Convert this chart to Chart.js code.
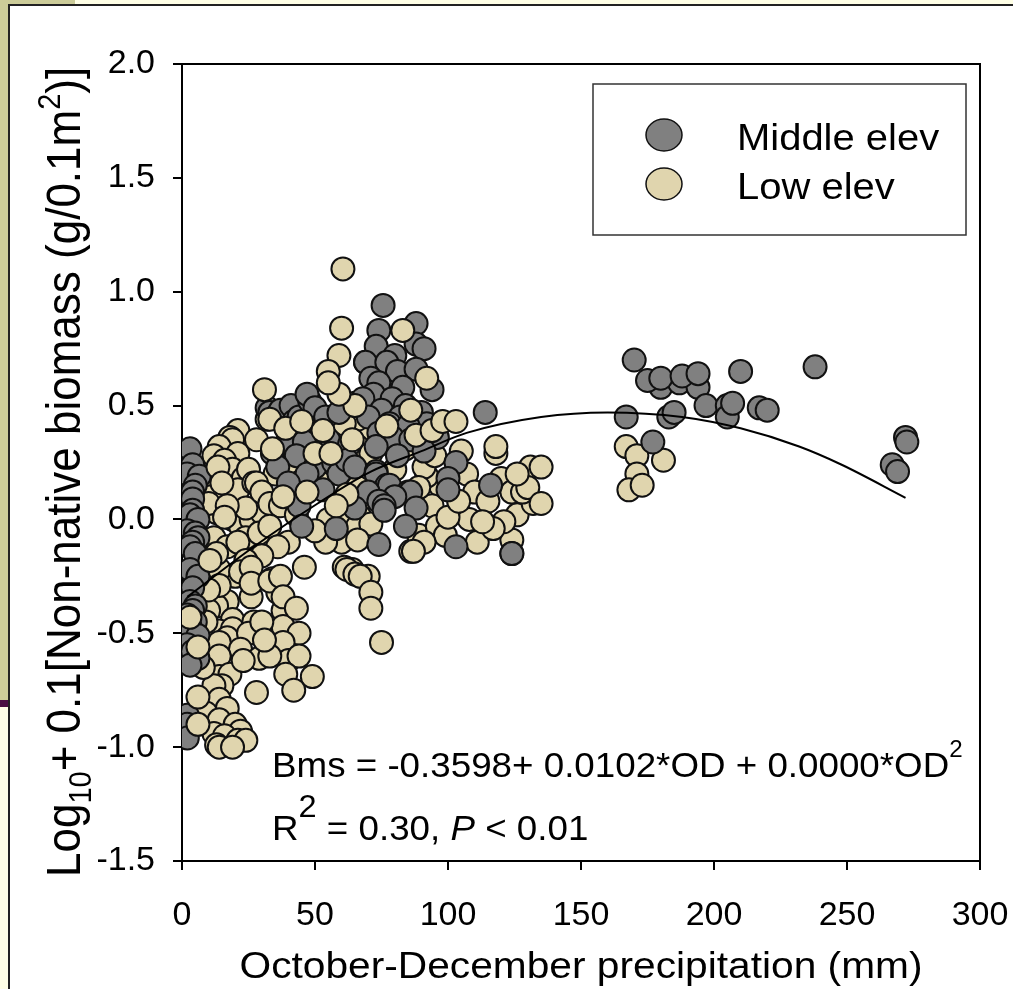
<!DOCTYPE html>
<html>
<head>
<meta charset="utf-8">
<script src="https://cdn.jsdelivr.net/npm/chart.js@4.4.1/dist/chart.umd.min.js"></script>
<style>
  body { margin: 0; background: #fff; }
  #wrap { position: absolute; left: 0; top: 0; width: 1013px; height: 989px; overflow: hidden; }
  .deco { position: absolute; }
  canvas { position: absolute; left: 0; top: 0; }
</style>
</head>
<body>
<div id="wrap">
  <div class="deco" style="left:0;top:0;width:1013px;height:5px;background:#ffffe6"></div>
  <div class="deco" style="left:0;top:0;width:75px;height:5px;background:#cccc99"></div>
  <div class="deco" style="left:0;top:0;width:8px;height:700px;background:#cccc99"></div>
  <div class="deco" style="left:0;top:700px;width:8px;height:7px;background:#4a0f42"></div>
  <div class="deco" style="left:0;top:707px;width:8px;height:282px;background:#ffffe6"></div>
  <div class="deco" style="left:8px;top:4px;width:2px;height:985px;background:#222"></div>
  <div class="deco" style="left:8px;top:4px;width:1005px;height:2px;background:#222"></div>
  <canvas id="myChart" width="1013" height="989"></canvas>
</div>
<script>
// Middle elevation sites [precip mm, log biomass]
const middleElev = [
  [3,0.31],[4,0.24],[2,0.20],[6.5,0.19],[5,0.15],[4,0.12],[4,0.09],[4,0.04],[3,0.02],[6,0.0],[2,-0.05],
  [5,-0.06],[6,-0.08],[4,-0.10],[3,-0.12],[5,-0.15],[3,-0.22],[6,-0.25],[4,-0.30],[3,-0.36],[5,-0.38],
  [4,-0.40],[2,-0.42],[5,-0.45],[3,-0.47],[3,-0.50],[6,-0.51],[2,-0.55],[4,-0.58],[6,-0.61],[3,-0.64],
  [2,-0.86],[2,-0.90],[2,-0.96],
  [32,0.49],[33,0.47],[36,0.46],[37,0.48],[41,0.50],[42,0.43],[44,0.45],[48,0.52],[47,0.55],[50,0.49],
  [52,0.41],[54,0.45],[59,0.47],[41,0.39],[39,0.33],[46,0.34],[43,0.28],[55,0.35],[63,0.33],[34,0.29],
  [36,0.23],[50,0.23],[57,0.25],[47,0.20],[59,0.20],[62,0.26],[65,0.23],[40,0.16],[53,0.13],[68,0.50],
  [69,0.69],[44,0.06],[45,-0.03],[58,-0.04],
  [75.6,0.94],[88,0.86],[74,0.83],[73,0.76],[88,0.77],[91,0.75],[80,0.72],[69,0.69],[77,0.69],[81,0.65],
  [88,0.66],[71,0.62],[74,0.60],[83,0.58],[72,0.55],[94,0.57],[79,0.53],[68,0.53],[84,0.50],[75,0.48],
  [90,0.47],[70,0.45],[82,0.45],[78,0.42],[92,0.42],[114,0.47],[85,0.41],[74,0.38],[79,0.36],[86,0.35],
  [96,0.36],[73,0.32],[91,0.30],[81,0.28],[73,0.21],[73,0.20],[77,0.15],[78,0.15],[70,0.12],[85,0.12],
  [86,0.12],[80,0.10],[88,0.05],[65,0.05],[103,0.25],[100,0.18],[100,0.13],[74,0.08],[76,0.06],
  [76,0.04],[84,-0.03],[74,-0.11],[103,-0.12],[116,0.15],[124,-0.15],
  [167,0.45],[183,0.45],[185,0.47],[177,0.34],[180,0.58],[187,0.60],[194,0.58],[197,0.50],[205,0.50],
  [205,0.45],[207,0.51],[217,0.49],[220,0.48],[175,0.61],[170,0.70],[180,0.62],[188,0.63],[194,0.64],
  [210,0.65],[238,0.67],
  [272,0.36],[272.5,0.34],[267,0.24],[269,0.21]
];

// Low elevation sites that sit under the middle elevation circles
const lowElev = [
  [60.5,1.10],[59,0.72],[55,0.65],[65,0.51],
  [21,0.39],[18,0.36],[19,0.35],[14,0.32],[21,0.29],[12,0.28],[16,0.26],[19,0.22],[23,0.18],
  [32,0.44],[49,0.46],[57,0.45],[62,0.48],[70,0.38],
  [74,0.44],[82,0.36],[35,0.20],[42,0.22],[46,0.27],
  [12,0.20],[25,0.22],[21,0.13],[27,0.16],[28,0.16],[8,0.13],
  [11,0.10],[13,0.03],[19,0.0],[22,-0.03],[26,0.0],[30,0.03],
  [10,0.07],[24,0.05],[30,0.12],[33,0.07],[37,0.06],[43,0.02],[44,0.16],[52,0.16],
  [54,0.30],[40,0.25],[28,0.35],[48,0.38],[66,0.14],[68,0.09],[67,0.01],
  [62,0.03],[55,0.0],[66,-0.03],[71,-0.02],[60,-0.10],[54,-0.10],[50,-0.05],[40,-0.10],
  [9,-0.16],[12,-0.08],[17,-0.12],[24,-0.08],[21,-0.10],[29,-0.06],[33,-0.03],
  [36,-0.12],[30,-0.16],[24,-0.18],[20,-0.25],[46,-0.21],[61,-0.21],[64,-0.22],[66,-0.09],
  [86,-0.14],[89,-0.07],
  [14,-0.22],[22,-0.23],[26,-0.21],[34,-0.26],[36,-0.32],[17,-0.36],[26,-0.34],[38,-0.40],[13,-0.38],
  [10,-0.40],[19,-0.44],[27,-0.45],[38,-0.47],[44,-0.50],[14,-0.49],[19,-0.48],[17,-0.52],[25,-0.50],
  [30,-0.45],[14,-0.54],[22,-0.57],[35,-0.56],[38,-0.54],[40,-0.62],
  [44,-0.60],[29,-0.61],[33,-0.60],[14,-0.60],[39,-0.68],[49,-0.69],[42,-0.75],[14,-0.69],[18,-0.68],
  [15,-0.73],[12,-0.73],[28,-0.76],[14,-0.79],[17,-0.83],[9,-0.85],[14,-0.88],[20,-0.90],
  [22,-0.93],[12,-0.94],[16,-0.95],[13,-0.99],[21,-0.97],[24,-0.97],[14,-1.0],[19,-1.0],
  [62,-0.22],[65,-0.24],[70,-0.25],[67,-0.25],[71,-0.32],
  [71,-0.39],[75,-0.54],[26,-0.28],[33,-0.27],[37,-0.25],[14,-0.29],[38,-0.34],[43,-0.39],
  [10,-0.31],[9,-0.45],[31,-0.53],[23,-0.62],[8,-0.65],
  [118,0.29],[131,0.23],[120,0.18],[124,0.12],[126,0.02],[124,-0.09],[124,-0.15],[121,-0.01],[132,0.07],
  [128,0.12],[130,0.14],[126,0.20],[107,0.20],[105,0.30],[110,0.12],[115,0.08],[97,0.15],[108,0.0],
  [111,-0.10],[117,-0.04],[92,0.19],[91,0.23],[94,0.06],
  [96,-0.03],[99,-0.07],[91,-0.10],[87,-0.14],[89,0.14],[100,0.01],[113,-0.01],[104,0.08],[135,0.23],
  [135,0.07],[118,0.32],[66,0.44],[66,0.32],
  [71,0.29],[61,0.42],[84,0.31],[80,0.22],[95,0.28],
  [167,0.32],[171,0.28],[181,0.26],[171,0.20],[168,0.13],[173,0.15]
];

// Low elevation sites drawn over the middle elevation circles
const lowElevFront = [
  [60,0.84],[83,0.83],[92,0.62],[31,0.57],[65,0.50],[59,0.55],[55,0.60],[33,0.44],[39,0.40],[45,0.43],
  [34,0.31],[53,0.39],[64,0.35],[86,0.48],[77,0.41],[88,0.37],[94,0.39],[98,0.43],[103,0.43],[50,0.29],
  [56,0.29],[47,0.12],[38,0.10],[62,0.11],[58,0.06],[13.5,0.23],[15,0.16],[17,0.06],[16,0.01],[13,-0.15],
  [10.5,-0.18],[3,-0.43],[6,-0.56],[6,-0.78],[6,-0.90]
];

// fitted curve
const fitX = [2, 27, 51, 71, 90, 107, 135, 160, 188, 210, 232, 248, 272];
const fitY = [-0.34, -0.12, 0.07, 0.21, 0.30, 0.38, 0.45, 0.47, 0.45, 0.40, 0.32, 0.24, 0.095];

const xTicks = [0, 50, 100, 150, 200, 250, 300];
const yTicks = [-1.5, -1.0, -0.5, 0.0, 0.5, 1.0, 1.5, 2.0];

const seriesNames = ['Middle elev', 'Low elev'];
const seriesColors = ['#808080', '#e0d5ae'];

const FONT = '"Liberation Sans", Arial, sans-serif';

function toPts(arr) { return arr.map(p => ({ x: p[0], y: p[1] })); }

function pointSet(label, arr, color) {
  return {
    label: label,
    data: toPts(arr),
    backgroundColor: color,
    borderColor: '#111',
    borderWidth: 2,
    pointRadius: 11.5
  };
}

// draws a row of text pieces (sub/superscript, italic) from x,y on the baseline
function drawRuns(ctx, runs, x, y) {
  let cx = x;
  runs.forEach(r => {
    ctx.font = (r.italic ? 'italic ' : '') + r.size + 'px ' + FONT;
    ctx.fillText(r.t, cx, y + (r.dy || 0));
    cx += ctx.measureText(r.t).width;
  });
}

const extras = {
  id: 'extras',
  afterDraw(chart) {
    const ctx = chart.ctx;
    const a = chart.chartArea;
    ctx.save();
    ctx.strokeStyle = '#000';
    ctx.lineWidth = 2;
    ctx.beginPath();
    ctx.moveTo(a.left, a.top);
    ctx.lineTo(a.right, a.top);
    ctx.lineTo(a.right, a.bottom);
    ctx.stroke();

    ctx.fillStyle = '#000';
    ctx.textAlign = 'left';
    ctx.textBaseline = 'alphabetic';

    // legend
    ctx.lineWidth = 1.5;
    ctx.strokeStyle = '#333';
    ctx.strokeRect(593, 84, 373, 151);
    [135, 184].forEach((cy, i) => {
      ctx.beginPath();
      ctx.ellipse(664, cy, 18, 16, 0, 0, Math.PI * 2);
      ctx.fillStyle = seriesColors[i];
      ctx.fill();
      ctx.strokeStyle = '#111';
      ctx.stroke();
      ctx.fillStyle = '#000';
      ctx.save();
      ctx.translate(737, cy + 15);
      ctx.scale(1.08, 1);
      drawRuns(ctx, [{ t: seriesNames[i], size: 37 }], 0, 0);
      ctx.restore();
    });

    // equation
    ctx.save();
    ctx.translate(272, 777);
    ctx.scale(1.05, 1);
    drawRuns(ctx, [
      { t: 'Bms = -0.3598+ 0.0102*OD + 0.0000*OD', size: 35 },
      { t: '2', size: 23, dy: -20 }
    ], 0, 0);
    drawRuns(ctx, [
      { t: 'R', size: 35 },
      { t: '2', size: 31, dy: -23 },
      { t: ' = 0.30, ', size: 35 },
      { t: 'P', size: 35, italic: true },
      { t: ' < 0.01', size: 35 }
    ], 0, 63);
    ctx.restore();

    // x axis title
    ctx.save();
    ctx.translate((a.left + a.right) / 2, 978);
    ctx.scale(1.1, 1);
    ctx.textAlign = 'center';
    ctx.font = '37px ' + FONT;
    ctx.fillText('October-December precipitation (mm)', 0, 0);
    ctx.restore();

    // y axis title
    ctx.save();
    ctx.translate(80, 877);
    ctx.rotate(-Math.PI / 2);
    ctx.scale(1, 1.1);
    drawRuns(ctx, [
      { t: 'Log', size: 44 },
      { t: '10', size: 29, dy: 10 },
      { t: '+ 0.1[Non-native biomass (g/0.1m', size: 44 },
      { t: '2', size: 29, dy: -18 },
      { t: ')]', size: 44 }
    ], 0, 0);
    ctx.restore();

    ctx.restore();
  }
};

const axisCommon = {
  border: { display: true, color: '#000', width: 2 },
  grid: { display: true, drawOnChartArea: false, drawTicks: true, tickLength: 9, color: '#000', lineWidth: 2 },
};

const ctx = document.getElementById('myChart');
// datasets listed first are drawn on top
const myChart = new Chart(ctx, {
  type: 'scatter',
  data: {
    datasets: [
      {
        type: 'line',
        label: 'fit',
        data: fitX.map((x, i) => ({ x: x, y: fitY[i] })),
        borderColor: '#000',
        borderWidth: 2,
        pointRadius: 0,
        fill: false,
        cubicInterpolationMode: 'monotone'
      },
      pointSet(seriesNames[1], lowElevFront, seriesColors[1]),
      pointSet(seriesNames[0], middleElev, seriesColors[0]),
      pointSet(seriesNames[1], lowElev, seriesColors[1])
    ]
  },
  options: {
    responsive: false,
    animation: false,
    devicePixelRatio: 1,
    events: [],
    layout: { padding: { left: 0, top: 64, right: 33, bottom: 0 } },
    plugins: { legend: { display: false }, tooltip: { enabled: false } },
    scales: {
      x: {
        ...axisCommon,
        type: 'linear',
        min: 0, max: 300,
        afterBuildTicks: s => { s.ticks = xTicks.map(v => ({ value: v })); },
        afterFit: s => { s.height = 128; s.paddingLeft = 0; s.paddingRight = 0; },
        ticks: { color: '#000', padding: 25, maxRotation: 0, font: { family: FONT, size: 34 } }
      },
      y: {
        ...axisCommon,
        type: 'linear',
        min: -1.5, max: 2.0,
        afterBuildTicks: s => { s.ticks = yTicks.map(v => ({ value: v })); },
        afterFit: s => { s.width = 182; s.paddingTop = 0; s.paddingBottom = 0; },
        ticks: { color: '#000', padding: 18, font: { family: FONT, size: 34 }, callback: v => v.toFixed(1) }
      }
    }
  },
  plugins: [extras]
});
</script>
</body>
</html>
